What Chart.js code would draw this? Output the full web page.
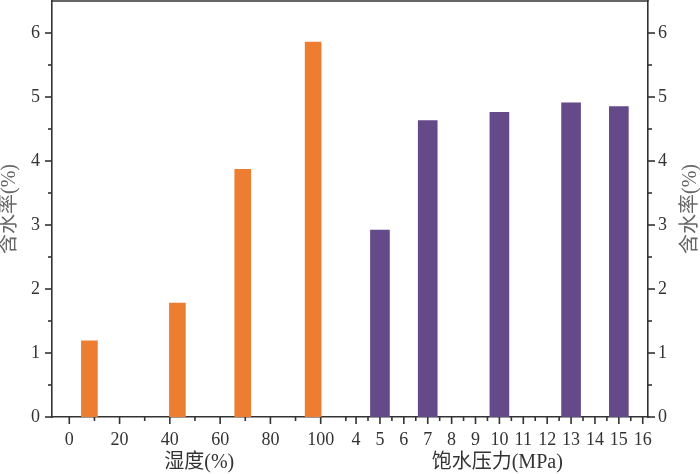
<!DOCTYPE html>
<html>
<head>
<meta charset="utf-8">
<script src="https://cdn.jsdelivr.net/npm/chart.js@4"></script>
<style>
html, body { margin: 0; padding: 0; background: #fff; }
</style>
</head>
<body>
<canvas id="moistureChart" width="700" height="474"></canvas>
<script>
// humidity tests (left half) and pressure saturation tests (right half)
const humidity = [8, 43, 69, 97];
const humidityMoisture = [1.19, 1.78, 3.87, 5.86];
const pressure = [5, 7, 10, 13, 15];
const pressureMoisture = [2.92, 4.63, 4.76, 4.91, 4.85];

const humidityTicks = [0, 20, 40, 60, 80, 100];
const humidityMinor = [10, 30, 50, 70, 90, 110];
const pressureTicks = [4, 5, 6, 7, 8, 9, 10, 11, 12, 13, 14, 15, 16];
const pressureMinor = [4.5, 5.5, 6.5, 7.5, 8.5, 9.5, 10.5, 11.5, 12.5, 13.5, 14.5, 15.5];
const yTicks = [0, 1, 2, 3, 4, 5, 6];
const yMinor = [0.5, 1.5, 2.5, 3.5, 4.5, 5.5];

const axisColor = "#333";
const fontFamily = "'Liberation Serif', 'Noto Sans CJK SC', serif";
const yTitle = "含水率(%)";

function asTicks(values) {
    return values.map(v => ({ value: v }));
}

// fixed box sizes so the plot area lands where the reference has it
function fixBox(size) {
    return s => {
        if (s.isHorizontal()) s.height = size; else s.width = size;
        s.paddingTop = 0;
        s.paddingBottom = 0;
        s.paddingLeft = 0;
        s.paddingRight = 0;
    };
}

const tickMarks = {
    id: "tickMarks",
    afterDraw(chart) {
        const ctx = chart.ctx;
        const area = chart.chartArea;
        const xh = chart.scales.xh, xp = chart.scales.xp, y = chart.scales.y;
        ctx.save();
        ctx.strokeStyle = axisColor;
        ctx.lineWidth = 1.6;
        const line = (x1, y1, x2, y2) => {
            ctx.beginPath();
            ctx.moveTo(x1, y1);
            ctx.lineTo(x2, y2);
            ctx.stroke();
        };
        // top frame
        line(area.left - 0.8, area.top, area.right + 0.8, area.top);
        humidityTicks.forEach(v => { const p = xh.getPixelForValue(v); line(p, area.bottom, p, area.bottom + 7); });
        humidityMinor.forEach(v => { const p = xh.getPixelForValue(v); line(p, area.bottom, p, area.bottom + 4); });
        pressureTicks.forEach(v => { const p = xp.getPixelForValue(v); line(p, area.bottom, p, area.bottom + 7); });
        pressureMinor.forEach(v => { const p = xp.getPixelForValue(v); line(p, area.bottom, p, area.bottom + 4); });
        yTicks.forEach(v => {
            const p = y.getPixelForValue(v);
            line(area.left - 7, p, area.left, p);
            line(area.right, p, area.right + 7, p);
        });
        yMinor.forEach(v => {
            const p = y.getPixelForValue(v);
            line(area.left - 4, p, area.left, p);
            line(area.right, p, area.right + 4, p);
        });
        // right axis title, reading bottom to top like the left one
        ctx.fillStyle = "#666";
        ctx.font = "20px " + fontFamily;
        ctx.textAlign = "center";
        ctx.textBaseline = "middle";
        ctx.translate(691, (area.top + area.bottom) / 2);
        ctx.rotate(-Math.PI / 2);
        ctx.fillText(yTitle, 0, 0);
        ctx.restore();
    }
};

const tickFont = { family: fontFamily, size: 18 };
const titleFont = { family: fontFamily, size: 20, lineHeight: 1 };

const ctx = document.getElementById("moistureChart").getContext("2d");
new Chart(ctx, {
    type: "bar",
    data: {
        datasets: [{
            label: "湿度",
            data: humidity.map((h, i) => ({ x: h, y: humidityMoisture[i] })),
            xAxisID: "xh",
            yAxisID: "y",
            backgroundColor: "#ED7D31",
            barThickness: 16,
            grouped: false
        }, {
            label: "饱水压力",
            data: pressure.map((p, i) => ({ x: p, y: pressureMoisture[i] })),
            xAxisID: "xp",
            yAxisID: "y",
            backgroundColor: "#654A8A",
            barThickness: 19,
            grouped: false
        }]
    },
    options: {
        responsive: false,
        animation: false,
        layout: { padding: { top: 1, left: 0, right: 0, bottom: 0 } },
        plugins: { legend: { display: false }, tooltip: { enabled: false } },
        scales: {
            xh: {
                type: "linear",
                position: "bottom",
                stack: "bottom",
                stackWeight: 294.5,
                offset: false,
                min: -6.88,
                max: 110.27,
                afterBuildTicks: s => { s.ticks = asTicks(humidityTicks); },
                afterFit: fixBox(57),
                grid: { display: false, drawTicks: false, offset: false },
                border: { display: true, color: axisColor, width: 1.6 },
                ticks: { font: tickFont, color: axisColor, padding: 12, autoSkip: false, maxRotation: 0, minRotation: 0 },
                title: { display: true, text: "湿度(%)", font: titleFont, color: "#333", padding: { top: 0, bottom: 1 } }
            },
            xp: {
                type: "linear",
                position: "bottom",
                stack: "bottom",
                stackWeight: 301.5,
                offset: false,
                min: 3.6,
                max: 16.22,
                afterBuildTicks: s => { s.ticks = asTicks(pressureTicks); },
                afterFit: fixBox(57),
                grid: { display: false, drawTicks: false, offset: false },
                border: { display: true, color: axisColor, width: 1.6 },
                ticks: { font: tickFont, color: axisColor, padding: 12, autoSkip: false, maxRotation: 0, minRotation: 0 },
                title: { display: true, text: "饱水压力(MPa)", font: titleFont, color: "#333", padding: { top: 0, bottom: 1 } }
            },
            y: {
                type: "linear",
                position: "left",
                min: 0,
                max: 6.5,
                afterBuildTicks: s => { s.ticks = asTicks(yTicks); },
                afterFit: fixBox(52),
                grid: { display: false, drawTicks: false },
                border: { display: true, color: axisColor, width: 1.6 },
                ticks: { font: tickFont, color: axisColor, padding: 12 },
                title: { display: true, text: yTitle, font: titleFont, color: "#666", padding: { top: 0, bottom: 0 } }
            },
            y2: {
                type: "linear",
                position: "right",
                min: 0,
                max: 6.5,
                afterBuildTicks: s => { s.ticks = asTicks(yTicks); },
                afterFit: fixBox(52),
                grid: { display: false, drawTicks: false },
                border: { display: true, color: axisColor, width: 1.6 },
                ticks: { font: tickFont, color: axisColor, padding: 10 }
            }
        }
    },
    plugins: [tickMarks]
});
</script>
</body>
</html>
